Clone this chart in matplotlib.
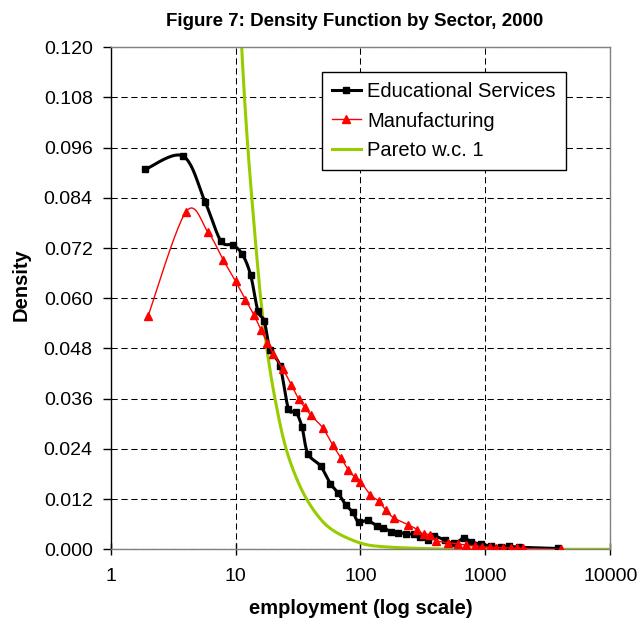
import numpy as np
import matplotlib
matplotlib.use("Agg")
import matplotlib.pyplot as plt
from matplotlib.lines import Line2D

plt.rcParams['font.family'] = ['Liberation Sans', 'DejaVu Sans']

# ---------------- data ----------------
edu_x = [1.9, 3.8, 5.7, 7.6, 9.5, 11.3, 13.2, 15.1, 17.0, 18.9, 22.7, 26.5, 30.3, 34.0,
         37.9, 47.9, 57.5, 66, 76.8, 86.8, 96.4, 114, 135, 151, 176, 199, 232, 270, 297,
         346, 386, 470, 560, 667, 770, 920, 1100, 1334, 1555, 1870, 3800]
edu_y = [0.0908, 0.0940, 0.0831, 0.0738, 0.0727, 0.0706, 0.0656, 0.0570, 0.0545, 0.0477,
         0.0438, 0.0336, 0.0329, 0.0293, 0.0229, 0.0199, 0.0157, 0.0135, 0.0105, 0.0089,
         0.0065, 0.0069, 0.0056, 0.0052, 0.0042, 0.0040, 0.0037, 0.0036, 0.0030, 0.0022,
         0.0032, 0.0022, 0.0014, 0.0026, 0.0018, 0.0012, 0.0008, 0.0006, 0.0008, 0.0005,
         0.0002]

man_x = [2, 4, 6, 8, 10, 12, 14, 16, 18, 20, 24, 28, 32, 36, 40, 50, 60, 70, 80, 90, 100,
         120, 140, 160, 185, 240, 285, 320, 360, 400, 500, 600, 700, 820, 930, 1080, 1220,
         1390, 1600, 1800, 2000, 4000]
man_y = [0.0558, 0.0806, 0.0759, 0.0691, 0.0641, 0.0597, 0.0561, 0.0524, 0.0494, 0.0468,
         0.0430, 0.0393, 0.0359, 0.0339, 0.0321, 0.0290, 0.0249, 0.0218, 0.0189, 0.0173,
         0.0162, 0.0130, 0.0115, 0.0093, 0.0075, 0.0059, 0.0047, 0.0036, 0.0035, 0.0021,
         0.0016, 0.0013, 0.0010, 0.0008, 0.0006, 0.0005, 0.0004, 0.0004, 0.0003, 0.0003,
         0.0002, 0.0000]

par_x = [10.9, 11.2, 11.8, 12.55, 13.5, 14.6, 15.9, 17.8, 20.7, 25.4, 33.5, 45.6, 62,
         100, 156, 391, 1000, 10000]
par_y = [0.127, 0.120, 0.108, 0.096, 0.084, 0.072, 0.060, 0.048, 0.036, 0.024, 0.0145,
         0.0080, 0.0043, 0.0015, 0.0006, 0.00012, 0.00002, 0.0]

yticks = [0.0, 0.012, 0.024, 0.036, 0.048, 0.060, 0.072, 0.084, 0.096, 0.108, 0.120]
xticks = [1, 10, 100, 1000, 10000]
xticklabels = ["1", "10", "100", "1000", "10000"]

# ---------------- figure ----------------
fig = plt.figure(figsize=(6.41, 6.26), dpi=100, facecolor="white")
ax = fig.add_axes([0.1724, 0.1225, 0.780, 0.802])
ax.set_xscale("log")
ax.set_xlim(1, 10000)
ax.set_ylim(0, 0.12)

def smooth(xs, ys, n=24):
    # excel-style smoothed line: bezier through points, built in display space
    P = ax.transData.transform(np.column_stack([xs, ys]))
    P = np.vstack([P[0], P, P[-1]])
    t = np.linspace(0, 1, n)[:, None]
    out = []
    for i in range(1, len(P) - 2):
        p0, p1, p2, p3 = P[i-1], P[i], P[i+1], P[i+2]
        c1 = p1 + (p2 - p0) / 6
        c2 = p2 - (p3 - p1) / 6
        seg = (1-t)**3*p1 + 3*(1-t)**2*t*c1 + 3*(1-t)*t**2*c2 + t**3*p2
        out.append(seg if i == 1 else seg[1:])
    out = ax.transData.inverted().transform(np.vstack(out))
    return out[:, 0], out[:, 1]

GRN, RED = "#99CC00", "#FF0000"
sx, sy = smooth(par_x, par_y)
ax.plot(sx, sy, color=GRN, lw=2.2, zorder=2)
sx, sy = smooth(edu_x, edu_y)
ax.plot(sx, sy, color="black", lw=2.2, zorder=3)
ax.plot(edu_x, edu_y, ls="none", marker="s", ms=5.0, color="black", zorder=3)
sx, sy = smooth(man_x, man_y)
ax.plot(sx, sy, color=RED, lw=1.0, zorder=4)
ax.plot(man_x, man_y, ls="none", marker="^", ms=5.6, color=RED, zorder=4)

# grid + frame
ax.grid(True, which="major", color="black", lw=0.75, ls=(0, (6, 3.5)))
ax.set_axisbelow(True)
ax.axhline(0, color="black", lw=0.75, ls=(0, (6, 3.5)), zorder=1.5)
for s in ("top", "right", "bottom"):
    ax.spines[s].set_color("#808080")
    ax.spines[s].set_linewidth(1.0)
ax.spines["left"].set_color("black")
ax.spines["left"].set_linewidth(1.0)

ax.set_yticks(yticks)
ax.set_yticklabels([f"{v:.3f}" for v in yticks])
ax.set_xticks(xticks)
ax.set_xticklabels(xticklabels)
ax.xaxis.set_minor_locator(matplotlib.ticker.NullLocator())
ax.tick_params(axis="y", direction="out", length=5.8, width=1, pad=7, labelsize=14)
ax.tick_params(axis="x", direction="inout", length=8.6, width=1, pad=9, labelsize=14)

ax.set_xlabel("employment (log scale)", fontsize=14.5, weight="bold", va="center")
ax.xaxis.set_label_coords(0.5, -0.117)
ax.set_ylabel("Density", fontsize=14.5, weight="bold", va="center")
ax.yaxis.set_label_coords(-0.179, 0.528)
fig.text(355/641, 1 - 22/626, "Figure 7: Density Function by Sector, 2000",
         ha="center", va="center", fontsize=13.5, weight="bold")

handles = [Line2D([], [], color="black", lw=2.2, marker="s", ms=4.5),
           Line2D([], [], color=RED, lw=1.0, marker="^", ms=5.5),
           Line2D([], [], color=GRN, lw=2.2)]
leg = ax.legend(handles, ["Educational Services", "Manufacturing", "Pareto w.c. 1"],
                loc="upper left", bbox_to_anchor=(0.4224, 0.950), borderaxespad=0,
                fontsize=14.5, handlelength=1.45, handletextpad=0.3, labelspacing=0.5,
                borderpad=0.5, fancybox=False, framealpha=1, edgecolor="black")
leg.get_frame().set_linewidth(1.0)

fig.savefig("out.png", dpi=100, facecolor="white")
